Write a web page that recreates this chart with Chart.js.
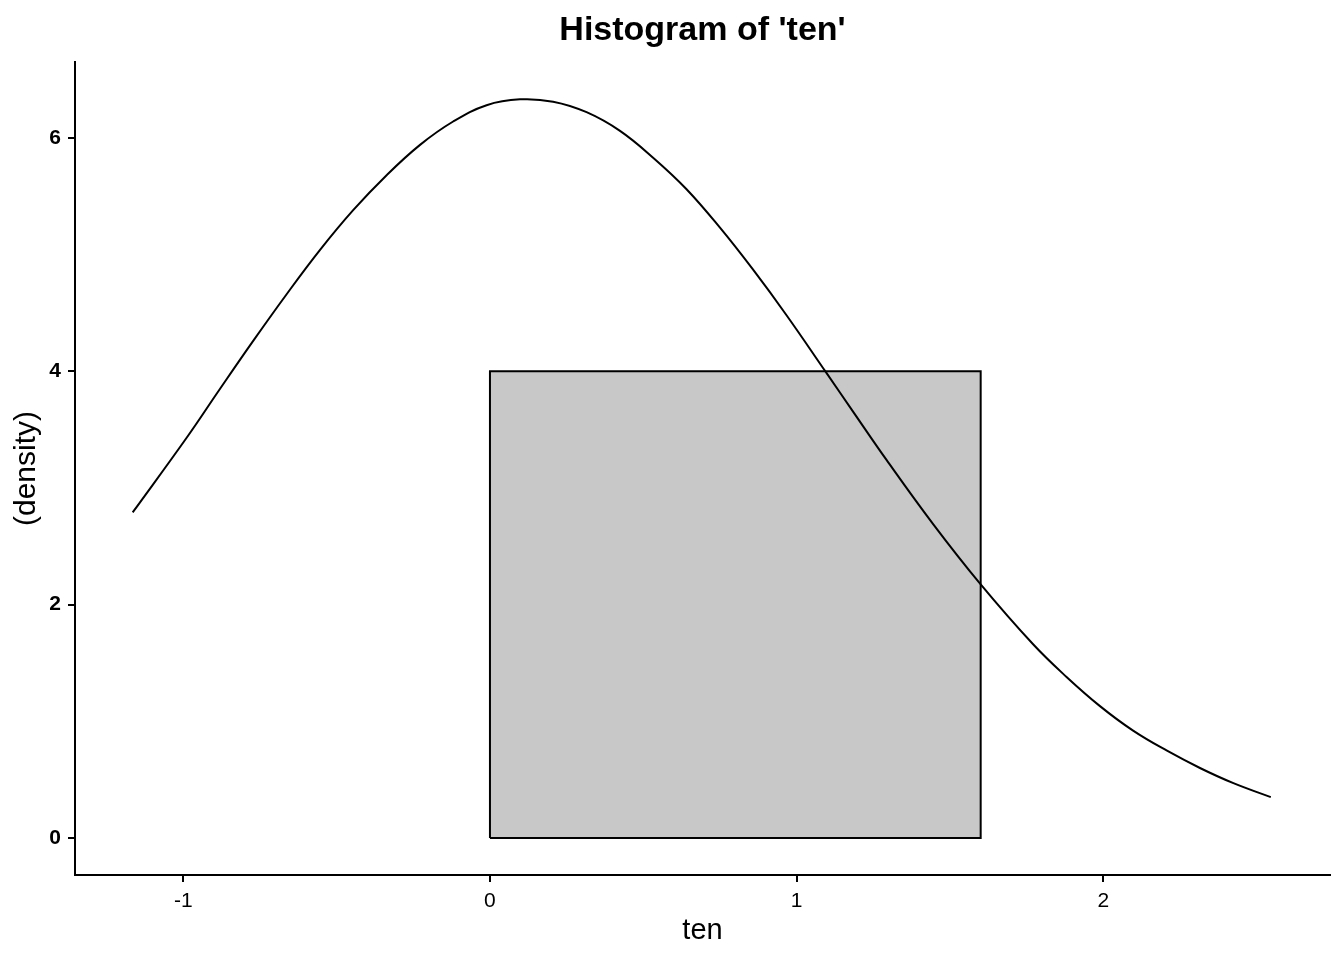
<!DOCTYPE html>
<html>
<head>
<meta charset="utf-8">
<title>Histogram of 'ten'</title>
<script src="https://cdn.jsdelivr.net/npm/chart.js@4.4.1/dist/chart.umd.min.js"></script>
<style>
  html, body { margin: 0; padding: 0; background: #fff; }
  #wrap { width: 1344px; height: 960px; }
</style>
</head>
<body>
<div id="wrap"><canvas id="grafica" width="1344" height="960"></canvas></div>
<script>
// ==========================================
// DATOS
// ==========================================
const binEdges = [0, 1.6];      // bordes del único bin
const binDensity = [4];         // altura del bin

const curveX = [-1.165, -0.989, -0.880, -0.772, -0.663, -0.554, -0.446, -0.337, -0.228, -0.120,
  -0.011, 0.098, 0.206, 0.315, 0.424, 0.532, 0.641, 0.750, 0.858, 0.967, 1.096, 1.185, 1.293,
  1.445, 1.598, 1.771, 1.880, 1.989, 2.097, 2.206, 2.315, 2.424, 2.546];
const curveY = [2.79, 3.43, 3.85, 4.26, 4.66, 5.04, 5.38, 5.68, 5.94, 6.14,
  6.28, 6.33, 6.31, 6.22, 6.06, 5.83, 5.56, 5.23, 4.87, 4.48, 3.99, 3.65, 3.24,
  2.69, 2.18, 1.66, 1.38, 1.13, 0.92, 0.75, 0.60, 0.47, 0.35];

const xTicks = [-1, 0, 1, 2];
const yTicks = [0, 2, 4, 6];
const xLimits = [-1.353, 2.739];
const yLimits = [-0.317, 6.65];

// ==========================================
// CONSTRUCCIÓN DE LA GRÁFICA
// ==========================================
const fuente = "'Liberation Sans', Arial, Helvetica, sans-serif";

// relleno (borde superior del bin, relleno hasta y = 0) y contorno del bin
const histTop = [];
const histOutline = [];
binDensity.forEach((d, i) => {
  const x0 = binEdges[i], x1 = binEdges[i + 1];
  histTop.push({ x: x0, y: d }, { x: x1, y: d });
  histOutline.push({ x: x0, y: 0 }, { x: x0, y: d }, { x: x1, y: d }, { x: x1, y: 0 }, { x: x0, y: 0 });
});

const curvePoints = curveX.map((x, i) => ({ x: x, y: curveY[i] }));

const ctx = document.getElementById('grafica').getContext('2d');
new Chart(ctx, {
  type: 'line',
  data: {
    datasets: [
      {
        data: curvePoints,
        borderColor: '#000',
        borderWidth: 2,
        pointRadius: 0,
        tension: 0.4,
        fill: false,
        order: 0
      },
      {
        data: histOutline,
        borderColor: '#000',
        borderWidth: 2,
        pointRadius: 0,
        tension: 0,
        fill: false,
        order: 1
      },
      {
        data: histTop,
        borderWidth: 0,
        borderColor: 'rgba(0,0,0,0)',
        backgroundColor: '#C8C8C8',
        pointRadius: 0,
        tension: 0,
        fill: 'origin',
        order: 2
      }
    ]
  },
  options: {
    responsive: false,
    animation: false,
    devicePixelRatio: 1,
    layout: { padding: { left: 0, right: 14, top: 0, bottom: 0 } },
    plugins: {
      legend: { display: false },
      tooltip: { enabled: false },
      title: {
        display: true,
        fullSize: false,
        text: "Histogram of 'ten'",
        color: '#000',
        font: { family: fuente, size: 34, weight: 'bold' },
        padding: { top: 10, bottom: 11.2 }
      }
    },
    scales: {
      x: {
        type: 'linear',
        min: xLimits[0],
        max: xLimits[1],
        afterBuildTicks: s => { s.ticks = xTicks.map(v => ({ value: v })); },
        afterFit: s => { s.height = 85; },
        grid: { drawOnChartArea: false, drawTicks: true, tickLength: 7, color: '#000', lineWidth: 2 },
        border: { display: true, color: '#000', width: 2 },
        ticks: { color: '#000', font: { family: fuente, size: 21 }, padding: 7, maxRotation: 0, autoSkip: false },
        title: {
          display: true, text: 'ten', color: '#000',
          font: { family: fuente, size: 29 }, padding: { top: 0, bottom: 12 }
        }
      },
      y: {
        type: 'linear',
        min: yLimits[0],
        max: yLimits[1],
        afterBuildTicks: s => { s.ticks = yTicks.map(v => ({ value: v })); },
        afterFit: s => { s.width = 75; },
        grid: { drawOnChartArea: false, drawTicks: true, tickLength: 7, color: '#000', lineWidth: 2 },
        border: { display: true, color: '#000', width: 2 },
        ticks: { color: '#000', font: { family: fuente, size: 21, weight: 'bold' }, padding: 7, autoSkip: false },
        title: {
          display: true, text: '(density)', color: '#000',
          font: { family: fuente, size: 30 }, padding: { top: 9, bottom: 0 }
        }
      }
    }
  }
});
</script>
</body>
</html>
